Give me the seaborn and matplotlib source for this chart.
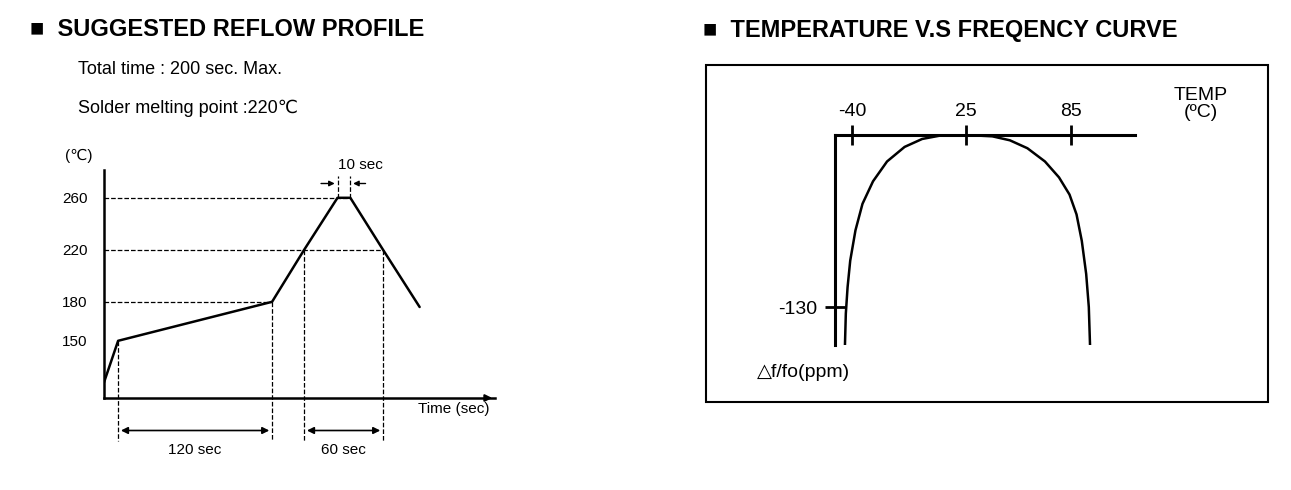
import numpy as np
import pandas as pd
import matplotlib.pyplot as plt
import matplotlib.patches as mpatches
import seaborn as sns

sns.set_style("white")
plt.rcParams['font.family'] = ['Liberation Sans', 'DejaVu Sans', 'Noto Sans CJK SC']
plt.rcParams['axes.unicode_minus'] = False
plt.rcParams['text.color'] = 'black'
plt.rcParams['xtick.color'] = 'black'
plt.rcParams['ytick.color'] = 'black'
plt.rcParams['axes.edgecolor'] = 'black'

# reflow profile (time in sec, temperature in C)
reflow_time = [0, 11, 131, 156, 182, 192, 217.5, 246]
reflow_temp = [118, 150, 180, 220, 260, 260, 220, 176]
reflow_ticks = [150, 180, 220, 260]

# temperature vs frequency curve
curve_temp = [-44, -43.5, -42.5, -41, -38, -34, -28, -20, -10, 0, 10, 25,
              40, 50, 60, 70, 78, 84, 88, 91, 93.5, 95, 95.7]
curve_ppm = [-159, -135, -115, -95, -72, -52, -35, -20, -9, -3, -0.5, 0,
             -1, -4, -10, -20, -32, -45, -60, -80, -105, -130, -159]
temp_ticks = [-40, 25, 85]
ppm_ticks = [-130]

W, H = 1291, 490
fig = plt.figure(figsize=(W / 100, H / 100), dpi=100)

def px_box(x0, y_top, x1, y_bot):
    return [x0 / W, 1 - y_bot / H, (x1 - x0) / W, (y_bot - y_top) / H]

# ---------- left panel ----------
fig.text(30 / W, 1 - 30 / H, "■  SUGGESTED REFLOW PROFILE", fontsize=17, fontweight='bold', va='center')
fig.text(78 / W, 1 - 70 / H, "Total time : 200 sec. Max.", fontsize=13, va='center')
fig.text(78 / W, 1 - 108 / H, "Solder melting point :220℃", fontsize=13, va='center')

ax = fig.add_axes(px_box(104, 170, 495, 398))
ax.set_xlim(0, 391 / 1.283)
ax.set_ylim(106, 106 + 228 / 1.3)
df = pd.DataFrame({"t": reflow_time, "T": reflow_temp})
sns.lineplot(data=df, x="t", y="T", ax=ax, color="black", lw=1.8, sort=False, estimator=None)
ax.set_xlabel(""); ax.set_ylabel("")
for s in ["top", "right"]:
    ax.spines[s].set_visible(False)
for s in ["left", "bottom"]:
    ax.spines[s].set_linewidth(1.8)
ax.set_xticks([])
ax.set_yticks(reflow_ticks)
ax.tick_params(axis='y', length=0, labelsize=11, pad=12)
ax.annotate("", xy=(1.0, 0), xytext=(0.97, 0), xycoords='axes fraction',
            arrowprops=dict(arrowstyle='-|>', color='black', lw=1.5), annotation_clip=False)
ax.text(-0.065, 1.06, "(℃)", transform=ax.transAxes, fontsize=11, va='center', ha='center')
ax.text(245, 103, "Time (sec)", fontsize=11, va='top', ha='left', clip_on=False)

dash = dict(color='black', ls='--', lw=0.9, clip_on=False)
ax.plot([0, reflow_time[5]], [260, 260], **dash)
ax.plot([0, reflow_time[6]], [220, 220], **dash)
ax.plot([0, reflow_time[2]], [180, 180], **dash)
low = 73
for i in [1, 2, 3, 6]:
    ax.plot([reflow_time[i], reflow_time[i]], [reflow_temp[i], low], **dash)
for i in [4, 5]:
    ax.plot([reflow_time[i], reflow_time[i]], [260, 277], **dash)

arr = dict(arrowstyle='<|-|>', color='black', lw=1.2, mutation_scale=10)
ax.annotate("", xy=(reflow_time[1], 81), xytext=(reflow_time[2], 81), arrowprops=arr, annotation_clip=False)
ax.annotate("", xy=(reflow_time[3], 81), xytext=(reflow_time[6], 81), arrowprops=arr, annotation_clip=False)
ax.text((reflow_time[1] + reflow_time[2]) / 2, 66, "120 sec", fontsize=11, ha='center', va='center')
ax.text((reflow_time[3] + reflow_time[6]) / 2, 66, "60 sec", fontsize=11, ha='center', va='center')
one = dict(arrowstyle='-|>', color='black', lw=1.0, mutation_scale=8)
ax.annotate("", xy=(reflow_time[4], 271), xytext=(reflow_time[4] - 15, 271), arrowprops=one, annotation_clip=False)
ax.annotate("", xy=(reflow_time[5], 271), xytext=(reflow_time[5] + 14, 271), arrowprops=one, annotation_clip=False)
ax.text(199.5, 285, "10 sec", fontsize=11, ha='center', va='center', clip_on=False)

# ---------- right panel ----------
fig.text(703 / W, 1 - 30 / H, "■  TEMPERATURE V.S FREQENCY CURVE", fontsize=17, fontweight='bold', va='center')
fig.patches.append(mpatches.Rectangle((706 / W, 1 - 402 / H), 562 / W, 337 / H,
                                      transform=fig.transFigure, fill=False, ec='black', lw=1.5))

ax2 = fig.add_axes(px_box(835, 135, 1135, 345))
ax2.set_xlim(25 - 131 * 0.57, 25 + 169 * 0.57)
ax2.set_ylim(-158.7, 0)
cdf = pd.DataFrame({"T": curve_temp, "ppm": curve_ppm})
sns.lineplot(data=cdf, x="T", y="ppm", ax=ax2, color="black", lw=1.8, sort=False, estimator=None)
ax2.set_xlabel(""); ax2.set_ylabel("")
ax2.patch.set_alpha(0)
for s in ["bottom", "right"]:
    ax2.spines[s].set_visible(False)
for s in ["left", "top"]:
    ax2.spines[s].set_linewidth(2.2)
ax2.xaxis.tick_top()
ax2.set_xticks(temp_ticks)
ax2.set_yticks(ppm_ticks)
ax2.tick_params(axis='x', top=True, direction='inout', length=14, width=2, labelsize=14, pad=4)
ax2.tick_params(axis='y', left=True, direction='inout', length=14, width=2, labelsize=14, pad=6)
ax2.text(1.22, 1.15, "TEMP\n(ºC)", transform=ax2.transAxes, fontsize=14, ha='center', va='center',
         linespacing=1.0)
ax2.text(-0.26, -0.13, "△f/fo(ppm)", transform=ax2.transAxes, fontsize=14, ha='left', va='center')

fig.savefig("out.png", dpi=100)
